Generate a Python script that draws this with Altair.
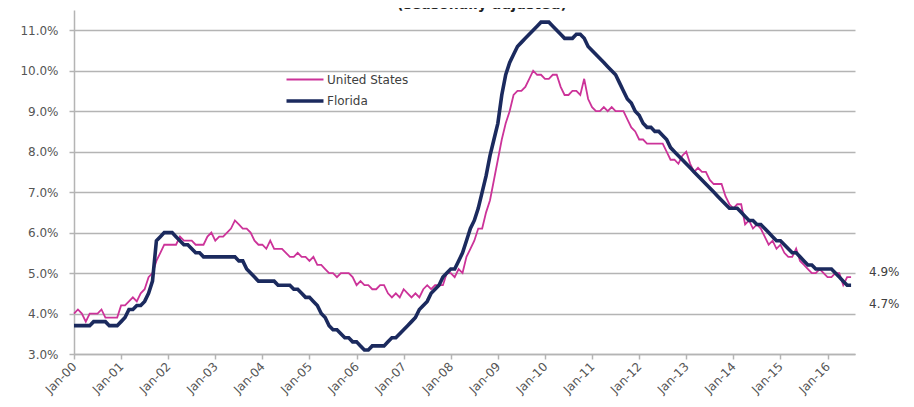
import altair as alt
import pandas as pd

series_names = ["United States", "Florida"]
tick_labels = ["Jan-00", "Jan-01", "Jan-02", "Jan-03", "Jan-04", "Jan-05", "Jan-06",
               "Jan-07", "Jan-08", "Jan-09", "Jan-10", "Jan-11", "Jan-12", "Jan-13",
               "Jan-14", "Jan-15", "Jan-16"]
y_tick_values = [3, 4, 5, 6, 7, 8, 9, 10, 11]

# monthly, Jan-2000 .. Jul-2016 (seasonally adjusted, %)
us_rate = [
    4.0, 4.1, 4.0, 3.8, 4.0, 4.0, 4.0, 4.1, 3.9, 3.9, 3.9, 3.9,
    4.2, 4.2, 4.3, 4.4, 4.3, 4.5, 4.6, 4.9, 5.0, 5.3, 5.5, 5.7,
    5.7, 5.7, 5.7, 5.9, 5.8, 5.8, 5.8, 5.7, 5.7, 5.7, 5.9, 6.0,
    5.8, 5.9, 5.9, 6.0, 6.1, 6.3, 6.2, 6.1, 6.1, 6.0, 5.8, 5.7,
    5.7, 5.6, 5.8, 5.6, 5.6, 5.6, 5.5, 5.4, 5.4, 5.5, 5.4, 5.4,
    5.3, 5.4, 5.2, 5.2, 5.1, 5.0, 5.0, 4.9, 5.0, 5.0, 5.0, 4.9,
    4.7, 4.8, 4.7, 4.7, 4.6, 4.6, 4.7, 4.7, 4.5, 4.4, 4.5, 4.4,
    4.6, 4.5, 4.4, 4.5, 4.4, 4.6, 4.7, 4.6, 4.7, 4.7, 4.7, 5.0,
    5.0, 4.9, 5.1, 5.0, 5.4, 5.6, 5.8, 6.1, 6.1, 6.5, 6.8, 7.3,
    7.8, 8.3, 8.7, 9.0, 9.4, 9.5, 9.5, 9.6, 9.8, 10.0, 9.9, 9.9,
    9.8, 9.8, 9.9, 9.9, 9.6, 9.4, 9.4, 9.5, 9.5, 9.4, 9.8, 9.3,
    9.1, 9.0, 9.0, 9.1, 9.0, 9.1, 9.0, 9.0, 9.0, 8.8, 8.6, 8.5,
    8.3, 8.3, 8.2, 8.2, 8.2, 8.2, 8.2, 8.0, 7.8, 7.8, 7.7, 7.9,
    8.0, 7.7, 7.5, 7.6, 7.5, 7.5, 7.3, 7.2, 7.2, 7.2, 6.9, 6.7,
    6.6, 6.7, 6.7, 6.2, 6.3, 6.1, 6.2, 6.1, 5.9, 5.7, 5.8, 5.6,
    5.7, 5.5, 5.4, 5.4, 5.6, 5.3, 5.2, 5.1, 5.0, 5.0, 5.1, 5.0,
    4.9, 4.9, 5.0, 5.0, 4.7, 4.9, 4.9,
]
fl_rate = [
    3.7, 3.7, 3.7, 3.7, 3.7, 3.8, 3.8, 3.8, 3.8, 3.7, 3.7, 3.7,
    3.8, 3.9, 4.1, 4.1, 4.2, 4.2, 4.3, 4.5, 4.8, 5.8, 5.9, 6.0,
    6.0, 6.0, 5.9, 5.8, 5.7, 5.7, 5.6, 5.5, 5.5, 5.4, 5.4, 5.4,
    5.4, 5.4, 5.4, 5.4, 5.4, 5.4, 5.3, 5.3, 5.1, 5.0, 4.9, 4.8,
    4.8, 4.8, 4.8, 4.8, 4.7, 4.7, 4.7, 4.7, 4.6, 4.6, 4.5, 4.4,
    4.4, 4.3, 4.2, 4.0, 3.9, 3.7, 3.6, 3.6, 3.5, 3.4, 3.4, 3.3,
    3.3, 3.2, 3.1, 3.1, 3.2, 3.2, 3.2, 3.2, 3.3, 3.4, 3.4, 3.5,
    3.6, 3.7, 3.8, 3.9, 4.1, 4.2, 4.3, 4.5, 4.6, 4.7, 4.9, 5.0,
    5.1, 5.1, 5.3, 5.5, 5.8, 6.1, 6.3, 6.6, 7.0, 7.4, 7.9, 8.3,
    8.7, 9.4, 9.9, 10.2, 10.4, 10.6, 10.7, 10.8, 10.9, 11.0, 11.1, 11.2,
    11.2, 11.2, 11.1, 11.0, 10.9, 10.8, 10.8, 10.8, 10.9, 10.9, 10.8, 10.6,
    10.5, 10.4, 10.3, 10.2, 10.1, 10.0, 9.9, 9.7, 9.5, 9.3, 9.2, 9.0,
    8.9, 8.7, 8.6, 8.6, 8.5, 8.5, 8.4, 8.3, 8.1, 8.0, 7.9, 7.8,
    7.7, 7.6, 7.5, 7.4, 7.3, 7.2, 7.1, 7.0, 6.9, 6.8, 6.7, 6.6,
    6.6, 6.6, 6.5, 6.4, 6.3, 6.3, 6.2, 6.2, 6.1, 6.0, 5.9, 5.8,
    5.8, 5.7, 5.6, 5.5, 5.5, 5.4, 5.3, 5.2, 5.2, 5.1, 5.1, 5.1,
    5.1, 5.1, 5.0, 4.9, 4.8, 4.7, 4.7,
]
annotation_texts = ["4.9%", "4.7%"]
title_text = "(seasonally adjusted)"

n = len(us_rate)
df = pd.DataFrame({
    "month": list(range(n)) + list(range(len(fl_rate))),
    "rate": us_rate + fl_rate,
    "series": [series_names[0]] * n + [series_names[1]] * len(fl_rate),
})

label_expr = "[" + ",".join(f"'{t}'" for t in tick_labels) + "][round(datum.value/12)]"

FONT = "DejaVu Sans"
GRID = "#b4b4b4"
LABEL = "#555555"

x = alt.X(
    "month:Q",
    scale=alt.Scale(domain=[0, 199], nice=False, zero=False),
    axis=alt.Axis(
        values=[12 * i for i in range(len(tick_labels))],
        labelExpr=label_expr, labelAngle=-45, labelAlign="right",
        labelBaseline="middle", grid=False, ticks=True, tickSize=5,
        tickColor=GRID, tickWidth=1.5, domainColor=GRID, domainWidth=1.5,
        labelPadding=5, labelFont=FONT, labelFontSize=12, labelColor=LABEL,
        title=None, labelOverlap=False,
    ),
)
y = alt.Y(
    "rate:Q",
    scale=alt.Scale(domain=[3, 11.5], nice=False, zero=False),
    axis=alt.Axis(
        values=y_tick_values, labelExpr="format(datum.value, '.1f') + '%'",
        grid=True, gridColor=GRID, gridWidth=1.5, ticks=True, tickSize=5,
        tickColor=GRID, tickWidth=1.5, domainColor=GRID, domainWidth=1.5,
        labelPadding=11, labelFont=FONT, labelFontSize=12, labelColor=LABEL,
        title=None,
    ),
)

legend = alt.Legend(
    orient="none", legendX=223, legendY=62, title=None,
    symbolType="M-3,0H3", symbolSize=152, labelFont=FONT, labelFontSize=12,
    labelColor="#404040", rowPadding=7, labelOffset=14, symbolOffset=0,
)

lines = alt.Chart(df).mark_line(interpolate="linear").encode(
    x=x,
    y=y,
    color=alt.Color("series:N", scale=alt.Scale(domain=series_names, range=["#cc3399", "#1b2a5e"]),
                    legend=legend),
    strokeWidth=alt.StrokeWidth("series:N", scale=alt.Scale(domain=series_names, range=[1.8, 3.6]),
                                legend=legend),
    order=alt.Order("month:Q"),
)

ann1 = alt.Chart(pd.DataFrame({"t": [annotation_texts[0]]})).mark_text(
    align="left", baseline="middle", font=FONT, fontSize=12, color="#404040"
).encode(text="t:N", x=alt.value(795), y=alt.value(262))
ann2 = alt.Chart(pd.DataFrame({"t": [annotation_texts[1]]})).mark_text(
    align="left", baseline="middle", font=FONT, fontSize=12, color="#404040"
).encode(text="t:N", x=alt.value(795), y=alt.value(294))
title = alt.Chart(pd.DataFrame({"t": [title_text]})).mark_text(
    align="center", baseline="alphabetic", font=FONT, fontSize=14, fontWeight="bold", color="#222222"
).encode(text="t:N", x=alt.value(408), y=alt.value(-1.5))

chart = alt.layer(lines, ann1, ann2, title).properties(
    width=781, height=344,
    padding={"left": 66, "top": 2, "right": 51, "bottom": 53},
    autosize=alt.AutoSizeParams(type="none"),
    background="white",
).configure_view(stroke=None)

chart.save("out.html", embed_options={"renderer": "svg", "actions": False})
